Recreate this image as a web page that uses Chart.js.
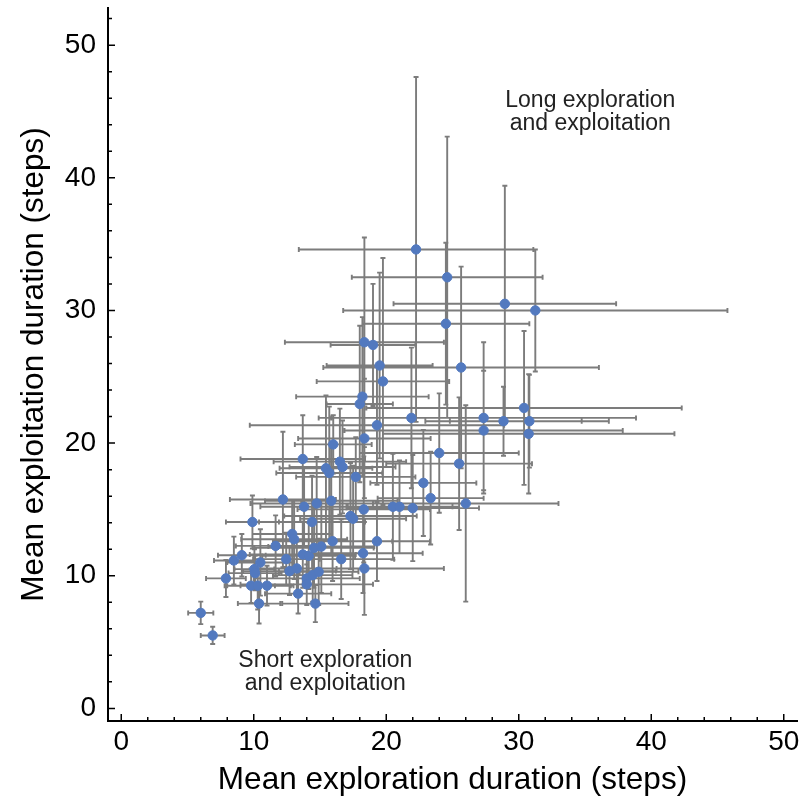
<!DOCTYPE html>
<html>
<head>
<meta charset="utf-8">
<title>Exploration vs exploitation</title>
<script src="https://cdn.jsdelivr.net/npm/chart.js@4"></script>
<style>
  html, body { margin: 0; padding: 0; background: #fff; }
  #wrap { width: 804px; height: 801px; position: relative; }
</style>
</head>
<body>
<div id="wrap"><canvas id="chart"></canvas></div>
<script>
// mean exploration duration (steps) per agent
const xMeans = [6.0, 6.9, 7.9, 8.5, 9.1, 9.9, 10.05, 10.1, 10.5, 9.8, 10.3, 11.0, 10.4, 11.65, 12.2, 12.45, 12.7, 12.9, 13.05, 13.25,
  13.35, 13.7, 13.7, 13.8, 14.0, 14.0, 14.15, 14.4, 14.45, 14.55, 14.65, 14.75, 14.9, 15.1, 15.45, 15.7, 15.85, 15.95, 16.0, 16.5,
  16.6, 16.7, 17.3, 17.5, 17.7, 18.0, 18.2, 18.25, 18.3, 18.35, 18.35, 18.35, 19.0, 19.3, 19.3, 19.5, 19.75, 20.5, 21.0, 21.9,
  22.0, 22.25, 22.8, 23.35, 24.0, 24.5, 24.6, 25.5, 25.65, 26.0, 27.35, 27.35, 28.85, 28.95, 30.4, 30.75, 30.8, 31.25];
// mean exploitation duration (steps)
const yMeans = [7.2, 5.5, 9.8, 11.15, 11.55, 14.05, 10.5, 10.2, 11.0, 9.25, 9.25, 9.25, 7.9, 12.25, 15.75, 11.25, 10.35, 13.15, 12.75, 10.55,
  8.65, 11.6, 18.8, 15.2, 9.8, 9.35, 11.5, 14.05, 10.05, 12.1, 7.9, 15.45, 10.3, 12.2, 18.1, 17.75, 15.65, 12.6, 19.9, 18.6,
  11.25, 18.2, 14.5, 14.3, 17.45, 22.95, 23.5, 11.7, 15.0, 20.35, 10.55, 27.6, 27.4, 12.6, 21.35, 25.85, 24.65, 15.2, 15.2, 21.9,
  15.1, 34.6, 17.0, 15.85, 19.25, 29.0, 32.5, 18.45, 25.7, 15.45, 21.9, 20.95, 21.65, 30.5, 22.65, 20.7, 21.65, 30.0];
// spread of exploration duration
const xErrs = [0.95, 0.9, 1.5, 1.5, 1.8, 2.0, 1.5, 2.0, 2.5, 1.8, 2.5, 2.0, 1.6, 3.0, 4.0, 2.5, 3.5, 3.0, 4.0, 3.0,
  2.5, 4.0, 4.7, 3.3, 4.0, 5.0, 3.5, 4.0, 3.0, 4.5, 2.5, 5.0, 3.0, 4.0, 3.5, 4.0, 5.0, 4.5, 2.9, 5.0,
  4.0, 4.0, 5.0, 4.0, 4.5, 2.5, 5.0, 4.5, 5.0, 5.0, 6.0, 6.0, 3.2, 4.0, 9.6, 4.0, 5.0, 5.0, 4.0, 7.0,
  5.0, 8.85, 4.0, 4.0, 6.0, 6.3, 7.2, 5.5, 10.4, 7.0, 11.5, 10.5, 5.9, 8.4, 11.9, 11.0, 6.0, 14.5];
// spread of exploitation duration
const yErrs = [0.85, 0.65, 1.4, 1.8, 1.6, 2.0, 1.5, 1.3, 2.5, 1.3, 1.8, 1.5, 1.5, 2.3, 5.1, 2.0, 1.8, 2.5, 3.0, 2.0,
  1.5, 2.5, 3.3, 3.0, 2.0, 1.5, 2.5, 3.5, 2.0, 3.0, 1.4, 3.5, 2.5, 3.5, 5.5, 5.0, 4.0, 3.0, 2.2, 4.0,
  3.0, 3.5, 4.0, 4.0, 3.0, 5.9, 6.0, 3.0, 4.0, 4.5, 3.5, 7.9, 4.6, 3.0, 4.5, 7.0, 9.3, 4.0, 3.5, 5.3,
  4.0, 13.0, 4.0, 3.5, 4.5, 6.1, 10.6, 5.0, 7.6, 7.4, 5.7, 4.5, 2.6, 8.9, 5.8, 4.5, 3.5, 4.6];

const xTicks = [0, 10, 20, 30, 40, 50];
const yTicks = [0, 10, 20, 30, 40, 50];
const minorStep = 2;

// corner notes: [x, y, text]
const notes = [
  [35.4, 45.8, "Long exploration"],
  [35.4, 44.1, "and exploitation"],
  [15.4, 3.6, "Short exploration"],
  [15.4, 1.85, "and exploitation"]
];

const FONT = "'Liberation Sans', Arial, Helvetica, sans-serif";

// error bars under the points
const errorBars = {
  id: "errorBars",
  beforeDatasetsDraw(chart) {
    const { ctx, scales: { x, y } } = chart;
    const cap = 2.5;
    ctx.save();
    ctx.strokeStyle = "#7c7c7c";
    ctx.lineWidth = 1.9;
    ctx.beginPath();
    for (let i = 0; i < xMeans.length; i++) {
      const cx = x.getPixelForValue(xMeans[i]);
      const cy = y.getPixelForValue(yMeans[i]);
      const x0 = x.getPixelForValue(xMeans[i] - xErrs[i]);
      const x1 = x.getPixelForValue(xMeans[i] + xErrs[i]);
      const y0 = y.getPixelForValue(yMeans[i] - yErrs[i]);
      const y1 = y.getPixelForValue(yMeans[i] + yErrs[i]);
      ctx.moveTo(x0, cy); ctx.lineTo(x1, cy);
      ctx.moveTo(x0, cy - cap); ctx.lineTo(x0, cy + cap);
      ctx.moveTo(x1, cy - cap); ctx.lineTo(x1, cy + cap);
      ctx.moveTo(cx, y0); ctx.lineTo(cx, y1);
      ctx.moveTo(cx - cap, y0); ctx.lineTo(cx + cap, y0);
      ctx.moveTo(cx - cap, y1); ctx.lineTo(cx + cap, y1);
    }
    ctx.stroke();
    ctx.restore();
  }
};

// inward tick marks (major + minor) and the two notes
const axisDecor = {
  id: "axisDecor",
  afterDraw(chart) {
    const { ctx, chartArea: a, scales: { x, y } } = chart;
    ctx.save();
    ctx.strokeStyle = "#000";
    ctx.lineWidth = 1.5;
    ctx.beginPath();
    for (let v = Math.ceil(x.min / minorStep) * minorStep; v <= x.max; v += minorStep) {
      const px = x.getPixelForValue(v);
      const len = xTicks.includes(v) ? 7 : 4;
      ctx.moveTo(px, a.bottom); ctx.lineTo(px, a.bottom - len);
    }
    for (let v = Math.ceil(y.min / minorStep) * minorStep; v <= y.max; v += minorStep) {
      const py = y.getPixelForValue(v);
      const len = yTicks.includes(v) ? 7 : 4;
      ctx.moveTo(a.left, py); ctx.lineTo(a.left + len, py);
    }
    ctx.stroke();

    ctx.fillStyle = "#222";
    ctx.font = "23px " + FONT;
    ctx.textAlign = "center";
    ctx.textBaseline = "middle";
    notes.forEach(([nx, ny, t]) => {
      ctx.fillText(t, x.getPixelForValue(nx), y.getPixelForValue(ny));
    });
    ctx.restore();
  }
};

function noEdgePadding(s) {
  s.paddingTop = 0;
  s.paddingBottom = 0;
  s.paddingLeft = 0;
  s.paddingRight = 0;
}

new Chart(document.getElementById("chart"), {
  type: "scatter",
  data: {
    datasets: [{
      data: xMeans.map((v, i) => ({ x: v, y: yMeans[i] })),
      backgroundColor: "#5279bf",
      borderColor: "#5279bf",
      pointRadius: 4.7,
      pointHoverRadius: 4.7
    }]
  },
  options: {
    responsive: true,
    maintainAspectRatio: false,
    animation: false,
    layout: { padding: { top: 8, right: 7, left: 0, bottom: 0 } },
    plugins: { legend: { display: false }, tooltip: { enabled: false } },
    scales: {
      x: {
        type: "linear",
        min: -1,
        max: 51,
        afterBuildTicks: s => { s.ticks = xTicks.map(v => ({ value: v })); },
        afterFit: s => { s.height = 80; noEdgePadding(s); },
        grid: { display: false, drawTicks: false },
        border: { display: true, color: "#000", width: 2 },
        ticks: { color: "#000", padding: 4, font: { family: FONT, size: 28 } },
        title: {
          display: true,
          text: "Mean exploration duration (steps)",
          color: "#000",
          font: { family: FONT, size: 31.5 },
          padding: { top: 0, bottom: 2 }
        }
      },
      y: {
        type: "linear",
        min: -0.95,
        max: 52.8,
        afterBuildTicks: s => { s.ticks = yTicks.map(v => ({ value: v })); },
        afterFit: s => { s.width = 108; noEdgePadding(s); },
        grid: { display: false, drawTicks: false },
        border: { display: true, color: "#000", width: 2 },
        ticks: { color: "#000", padding: 12, font: { family: FONT, size: 28 } },
        title: {
          display: true,
          text: "Mean exploitation duration (steps)",
          color: "#000",
          font: { family: FONT, size: 31.5 },
          padding: { top: 15, bottom: 0 }
        }
      }
    }
  },
  plugins: [errorBars, axisDecor]
});
</script>
</body>
</html>
